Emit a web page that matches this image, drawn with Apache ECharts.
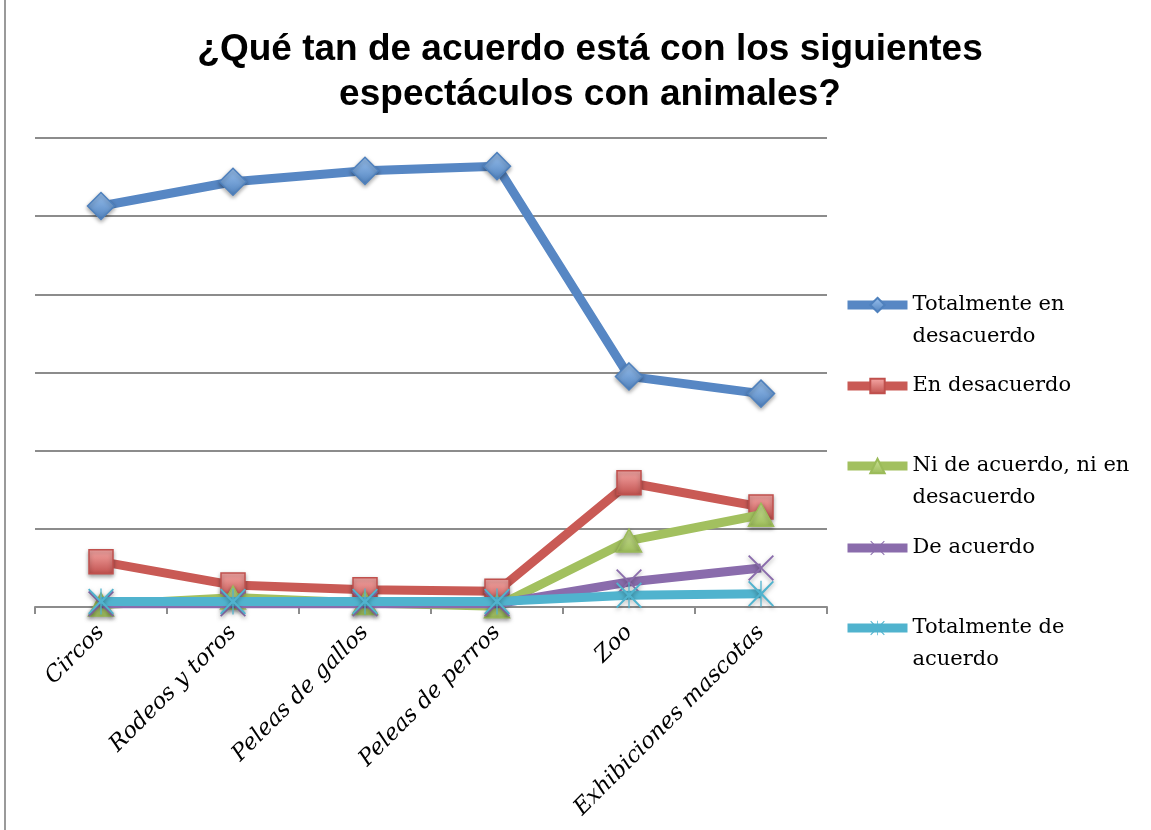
<!DOCTYPE html>
<html><head><meta charset="utf-8">
<script src="https://cdn.jsdelivr.net/npm/echarts@6/dist/echarts.min.js"></script>
<style>html,body{margin:0;padding:0;background:#fff}#c{width:1151px;height:830px}</style>
</head><body><div id="c"></div>
<script>
const categories = ['Circos','Rodeos y toros','Peleas de gallos','Peleas de perros','Zoo','Exhibiciones mascotas'];
const seriesNames = ['Totalmente en desacuerdo','En desacuerdo','Ni de acuerdo, ni en desacuerdo','De acuerdo','Totalmente de acuerdo'];
const legendLabels = ['\nTotalmente en\ndesacuerdo','En desacuerdo','\nNi de acuerdo, ni en\ndesacuerdo','De acuerdo','\nTotalmente de\nacuerdo'];
const totDesacuerdo = [51.3, 54.4, 55.8, 56.4, 29.5, 27.3];
const enDesacuerdo = [5.8, 2.8, 2.2, 2.0, 15.9, 12.8];
const niNi = [0.3, 1.2, 0.5, 0.1, 8.5, 11.8];
const deAcuerdo = [0.4, 0.4, 0.4, 0.4, 3.2, 5.0];
const totAcuerdo = [0.7, 0.7, 0.7, 0.7, 1.5, 1.7];
const yTicks = {min: 0, max: 60, interval: 10};

const colors = ['#4F81BD','#C0504D','#9BBB59','#8064A2','#4BACC6'];
const lines = ['#5787C4','#C95A55','#A2C05F','#8A6CAC','#50B3CE'];
const lights = ['#9cc3f0','#f7aaa8','#cfe59a','#b9a3d6','#8fd6ea'];
const xPath = 'path://M0,1 L1,0 L10,9 L19,0 L20,1 L11,10 L20,19 L19,20 L10,11 L1,20 L0,19 L9,10 Z';
const starPath = 'path://M0,1 L1,0 L9.5,8.5 L9.5,0 L10.5,0 L10.5,8.5 L19,0 L20,1 L11.5,10 L20,19 L19,20 L10.5,11.5 L10.5,20 L9.5,20 L9.5,11.5 L1,20 L0,19 L8.5,10 Z';
const symbols = ['diamond','rect','triangle',xPath,starPath];
const sizes = [[27,27],[24,24],[25,23],[26,26],[26,26]];
const datas = [totDesacuerdo,enDesacuerdo,niNi,deAcuerdo,totAcuerdo];

function grad(i){
  return new echarts.graphic.LinearGradient(0,0,0,1,[{offset:0,color:lights[i]},{offset:1,color:colors[i]}]);
}
const series = datas.map((d,i)=>({
  name: seriesNames[i], type:'line', data:d,
  symbol: symbols[i], symbolSize: sizes[i],
  lineStyle:{width:9, color:lines[i]},
  itemStyle:{color: i<3 ? grad(i) : lines[i], borderColor: colors[i], borderWidth: i<3?1.5:0,
    shadowBlur:4, shadowColor:'rgba(0,0,0,0.35)', shadowOffsetY:2},
  emphasis:{disabled:true}, z: 2+i
}));
const legendTops = [257, 370, 418, 532, 580];
const legends = seriesNames.map((n,i)=>({
  data:[n], left:843, top:legendTops[i], orient:'vertical',
  itemWidth:60, itemHeight:18, itemGap:0, padding:0,
  lineStyle:{width:9},
  formatter: ()=>legendLabels[i],
  textStyle:{fontFamily:'DejaVu Serif, serif', fontSize:21, color:'#000', lineHeight:32},
  selectedMode:false
}));
const chart = echarts.init(document.getElementById('c'));
chart.setOption({
  animation:false,
  title:{text:'¿Qué tan de acuerdo está con los siguientes\nespectáculos con animales?', left:585, textAlign:'center', top:22,
    textStyle:{fontFamily:'Liberation Sans, Arial, sans-serif', fontWeight:'bold', fontSize:37, lineHeight:45, color:'#000'}},
  grid:{left:35, right:324, top:138, bottom:223},
  legend: legends,
  xAxis:{type:'category', data:categories, boundaryGap:true,
    axisLine:{lineStyle:{color:'#8c8c8c', width:2}},
    axisTick:{show:true, length:7, lineStyle:{color:'#8c8c8c', width:2}},
    axisLabel:{rotate:45, margin:22, fontFamily:'DejaVu Serif, serif', fontStyle:'italic', fontSize:22.5, color:'#000'}},
  yAxis:{type:'value', min:yTicks.min, max:yTicks.max, interval:yTicks.interval,
    axisLabel:{show:false}, axisLine:{show:false}, axisTick:{show:false},
    splitLine:{lineStyle:{color:'#8c8c8c', width:2}}},
  graphic:[{type:'line', shape:{x1:5,y1:0,x2:5,y2:830}, style:{stroke:'#9a9a9a', lineWidth:2}}],
  series: series
});
</script></body></html>
